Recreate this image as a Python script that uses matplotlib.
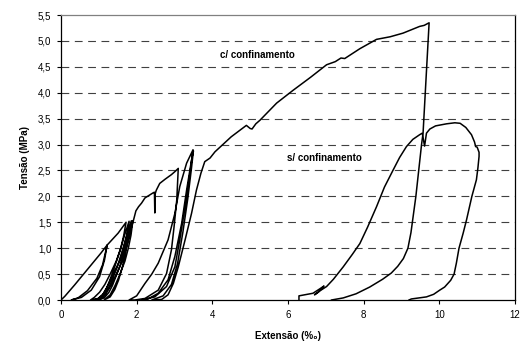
import matplotlib.pyplot as plt

plt.rcParams['font.family'] = ['Liberation Sans', 'DejaVu Sans']

# curva com confinamento (ciclos de carga/descarga)
conf_x = [0, 0.1, 0.36, 0.8, 1.05, 1.22,
          1.15, 1.02, 0.8, 0.54, 0.27,
          0.45, 0.7, 0.95, 1.1, 1.22,
          1.51, 1.72,
          1.66, 1.58, 1.46, 1.3, 1.16, 1.02, 0.88, 0.78,
          0.98, 1.1, 1.2, 1.28, 1.4, 1.56, 1.68, 1.8,
          1.74, 1.66, 1.55, 1.38, 1.24, 1.12, 1.0, 0.88,
          1.06, 1.18, 1.27, 1.36, 1.48, 1.62, 1.74, 1.86,
          1.8, 1.72, 1.62, 1.47, 1.33, 1.2, 1.08, 0.98,
          1.14, 1.26, 1.36, 1.44, 1.56, 1.68, 1.79, 1.9,
          1.85, 1.78, 1.69, 1.56, 1.43, 1.3, 1.14,
          1.3, 1.42, 1.52, 1.63, 1.73, 1.83, 1.92, 1.98,
          2.05, 2.13, 2.22, 2.35, 2.44, 2.47, 2.48, 2.49, 2.52, 2.61, 2.75, 2.92, 3.03, 3.1,
          3.08, 3.06, 2.99, 2.92, 2.79, 2.57, 2.22, 1.95, 1.8,
          2.0, 2.22, 2.4, 2.57, 2.83, 3.01, 3.14, 3.32, 3.49,
          3.41, 3.28, 3.14, 3.01, 2.79, 2.48, 2.13,
          2.3, 2.57, 2.83, 3.01, 3.19, 3.32, 3.45, 3.5,
          3.45, 3.35, 3.22, 3.08, 2.92, 2.7, 2.4,
          2.66, 2.83, 2.97, 3.1, 3.28, 3.45, 3.58, 3.7, 3.8, 3.94, 4.07,
          4.5, 4.9, 5.0, 5.05, 5.15, 5.26, 5.7, 6.14, 6.6, 7.02,
          7.25, 7.4, 7.5, 7.9, 8.34, 8.7, 9.04, 9.48, 9.6, 9.73,
          9.65, 9.57, 9.53, 9.38, 9.25, 9.17, 9.05, 8.9, 8.73, 8.5, 8.16, 7.8, 7.46, 7.15]
conf_y = [0, 0.07, 0.29, 0.68, 0.9, 1.06,
          0.77, 0.45, 0.19, 0.05, 0,
          0.04, 0.18, 0.42, 0.68, 1.06,
          1.29, 1.5,
          1.25, 1.0, 0.75, 0.5, 0.3, 0.15, 0.05, 0,
          0.03, 0.1, 0.22, 0.36, 0.6, 0.95, 1.25, 1.52,
          1.25, 1.0, 0.75, 0.5, 0.28, 0.12, 0.03, 0,
          0.03, 0.12, 0.25, 0.4, 0.62, 0.95, 1.25, 1.53,
          1.25, 1.0, 0.75, 0.5, 0.3, 0.14, 0.04, 0,
          0.04, 0.14, 0.28, 0.43, 0.66, 0.98, 1.28, 1.53,
          1.25, 1.0, 0.75, 0.5, 0.28, 0.1, 0,
          0.06, 0.2, 0.38, 0.66, 1.0, 1.32, 1.55, 1.72,
          1.8, 1.87, 1.97, 2.03, 2.07, 2.08, 1.68, 2.05, 2.12, 2.25, 2.33, 2.42, 2.49, 2.54,
          2.25, 1.93, 1.42, 0.97, 0.51, 0.19, 0.03, 0, 0,
          0.08, 0.32, 0.5, 0.71, 1.16, 1.67, 2.19, 2.64, 2.9,
          2.45, 1.8, 1.16, 0.64, 0.26, 0.06, 0,
          0.02, 0.13, 0.39, 0.84, 1.48, 2.12, 2.7, 2.88,
          2.55, 1.95, 1.3, 0.7, 0.3, 0.08, 0,
          0.01, 0.1, 0.32, 0.64, 1.16, 1.67, 2.12, 2.45, 2.67, 2.74, 2.86,
          3.15, 3.37, 3.31, 3.3, 3.4, 3.47, 3.8, 4.05, 4.3, 4.54,
          4.6, 4.67, 4.66, 4.85, 5.03, 5.08, 5.15, 5.28, 5.3, 5.35,
          4.3, 3.22, 3.0, 2.0, 1.3, 1.0, 0.8, 0.65, 0.52, 0.4, 0.25, 0.12, 0.04, 0]

# curva sem confinamento
unconf_x = [6.29, 6.29, 6.66, 6.85, 6.95, 6.8, 6.7, 6.85, 7.02, 7.2, 7.46, 7.7, 7.9,
            8.1, 8.34, 8.55, 8.78, 8.95, 9.13, 9.3, 9.48, 9.55, 9.61, 9.66, 9.75,
            9.9, 10.19, 10.41, 10.55, 10.7, 10.85, 10.93, 10.96, 11.0, 11.05, 11.05,
            11.02, 10.98, 10.86, 10.72, 10.63, 10.52, 10.45, 10.39, 10.3, 10.14,
            10.01, 9.85, 9.66, 9.26, 9.2]
unconf_y = [0, 0.08, 0.13, 0.22, 0.27, 0.15, 0.1, 0.18, 0.26, 0.4, 0.64, 0.88, 1.09,
            1.4, 1.8, 2.18, 2.51, 2.75, 2.96, 3.1, 3.19, 3.22, 2.97, 3.22, 3.3,
            3.36, 3.4, 3.42, 3.41, 3.33, 3.19, 3.05, 2.96, 2.95, 2.85, 2.77,
            2.55, 2.32, 2.0, 1.55, 1.29, 1.0, 0.71, 0.5, 0.38, 0.25,
            0.19, 0.11, 0.06, 0.02, 0]

yticks = [0, 0.5, 1.0, 1.5, 2.0, 2.5, 3.0, 3.5, 4.0, 4.5, 5.0, 5.5]
ytick_labels = ['0,0', '0,5', '1,0', '1,5', '2,0', '2,5', '3,0', '3,5', '4,0', '4,5', '5,0', '5,5']
xticks = [0, 2, 4, 6, 8, 10, 12]

fig = plt.figure(figsize=(5.23, 3.49), dpi=100)
ax = fig.add_axes([0.1166, 0.1404, 0.8681, 0.8166])

for y in yticks[1:-1]:
    ax.axhline(y, color='#404040', lw=0.8, dashes=(7, 5), zorder=1)

ax.plot(conf_x, conf_y, color='black', lw=1.1, zorder=3)
ax.plot(unconf_x, unconf_y, color='black', lw=1.1, zorder=3)

ax.text(4.2, 4.73, 'c/ confinamento', fontsize=7, fontweight='bold', va='center', ha='left')
ax.text(5.97, 2.74, 's/ confinamento', fontsize=7, fontweight='bold', va='center', ha='left')

ax.set_xlim(0, 12)
ax.set_ylim(0, 5.5)
ax.set_xticks(xticks)
ax.set_xticklabels([str(v) for v in xticks], fontsize=7)
ax.set_yticks(yticks)
ax.set_yticklabels(ytick_labels, fontsize=7)
ax.tick_params(length=3, width=0.8, direction='out', pad=4)

ax.spines['top'].set_color('#808080')
for s in ['left', 'bottom', 'right']:
    ax.spines[s].set_color('black')
for s in ax.spines.values():
    s.set_linewidth(0.9)

ax.set_xlabel('Extensão (%₀)', fontsize=7, fontweight='bold', labelpad=8)
ax.set_ylabel('Tensão (MPa)', fontsize=7, fontweight='bold', labelpad=6)

fig.savefig('out.png', dpi=100)
